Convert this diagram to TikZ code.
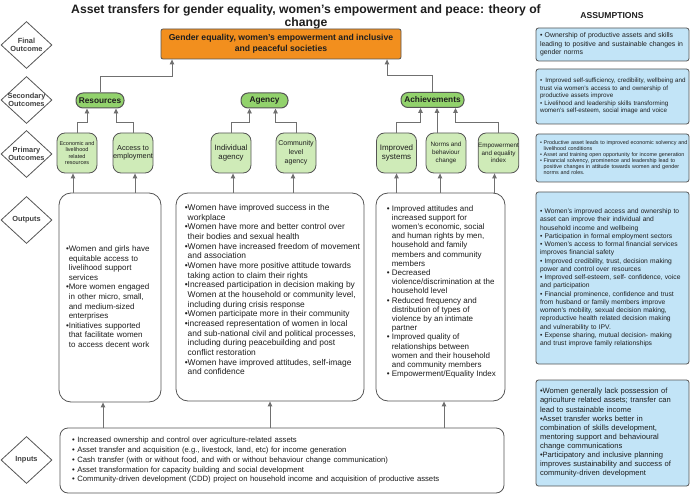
\documentclass[tikz,border=0pt]{standalone}
\usepackage{fontspec}
\setmainfont{Liberation Sans}
\usetikzlibrary{shapes.geometric,arrows.meta}

\definecolor{goalorange}{HTML}{F28F1E}
\definecolor{secgreen}{HTML}{92D26C}
\definecolor{prigreen}{HTML}{CFEBB8}
\definecolor{asmblue}{HTML}{C2E4F7}
\definecolor{edgegray}{HTML}{555555}
\definecolor{linegray}{HTML}{707070}
\definecolor{txt}{HTML}{1E1E1E}

\newcommand{\fs}[2]{\fontsize{#1}{#2}\selectfont}
\newcommand{\ind}{\\\hphantom{•}}
\newcommand{\inds}{\\\hphantom{• }}
% rows that never wrap
\newcommand{\rows}[1]{\begin{tabular}{@{}l@{}}#1\end{tabular}}

\tikzset{
  stagebox/.style={diamond, draw=edgegray, line width=0.8pt, fill=white, inner sep=-6pt,
    minimum width=51pt, minimum height=47pt, align=center,
    font=\bfseries\fs{7.4}{8.2}, text=darkgray},
  goalbox/.style={rectangle, rounded corners=2pt, draw=edgegray, line width=0.8pt,
    fill=goalorange, minimum width=240pt, minimum height=30pt, inner sep=0pt,
    align=center, font=\bfseries\fs{8.65}{10.7}, text=txt},
  secbox/.style={rectangle, rounded corners=7pt, draw=edgegray, line width=1pt,
    fill=secgreen, minimum height=15pt, inner sep=0pt,
    font=\bfseries\fs{8.3}{9}, text=txt},
  pribox/.style={rectangle, rounded corners=8pt, draw=edgegray, line width=0.8pt,
    fill=prigreen, minimum width=40pt, minimum height=40pt, inner sep=0pt,
    align=center, text=txt},
  outbox/.style={rectangle, rounded corners=12pt, draw=edgegray, line width=0.8pt, fill=white},
  outtext/.style={align=left, inner sep=0pt, text=txt, anchor=north west},
  asmbox/.style={rectangle, rounded corners=2.5pt, draw=edgegray, line width=0.8pt,
    fill=asmblue, inner xsep=4pt, inner ysep=0pt, text width=145pt,
    minimum width=153pt, align=left, text=txt},
  arr/.style={draw=linegray, line width=0.9pt, -{Triangle[width=4.5pt,length=5pt]}}
}

\begin{document}
\begin{tikzpicture}[x=1pt,y=-1pt]
\useasboundingbox (0,0) rectangle (692,494);

% headings
\node[align=center, font=\bfseries\fs{12.2}{13}, text=txt] (title) at (306,16.5)
  {Asset transfers for gender equality, women's empowerment and peace: theory of\\change};
\node[font=\bfseries\fs{8.6}{9}, text=txt] (asmhead) at (612,16) {ASSUMPTIONS};

% stages
\node[stagebox] (stfinal) at (26.5,45) {Final\\Outcome};
\node[stagebox] (stsecond) at (26.5,100) {Secondary\\Outcomes};
\node[stagebox] (stprimary) at (26.5,154) {Primary\\Outcomes};
\node[stagebox] (stoutput) at (26.5,220) {Outputs};
\node[stagebox] (stinput) at (26.5,460) {Inputs};

% final outcome
\node[goalbox] (goal) at (281,44)
  {Gender equality, women's empowerment and inclusive\\and peaceful societies};

% secondary outcomes
\node[secbox, minimum width=48pt] (resources) at (100,100.5) {Resources};
\node[secbox, minimum width=47pt] (agency) at (264.5,100.5) {Agency};
\node[secbox, minimum width=63pt] (achieve) at (432.5,100) {Achievements};

% primary outcomes
\node[pribox, font=\fs{5.5}{6.4}] (econ) at (77,153) {Economic and\\livelihood\\related\\resources};
\node[pribox, font=\fs{7.3}{7.8}] (employ) at (133,153) {Access to\\employment};
\node[pribox, font=\fs{7.8}{9}] (indiv) at (231,153) {Individual\\agency};
\node[pribox, font=\fs{7}{9}] (commun) at (296,153) {Community\\level\\agency};
\node[pribox, font=\fs{8}{8.5}] (systems) at (396.5,153) {Improved\\systems};
\node[pribox, font=\fs{6.3}{7.8}] (norms) at (446,153) {Norms and\\behaviour\\change};
\node[pribox, font=\fs{6.3}{7.8}] (index) at (498.5,153) {Empowerment\\and equality\\index};

% outputs
\node[outbox, minimum width=102pt, minimum height=209pt, text width=88pt, inner xsep=7pt,
  align=left, font=\fs{8}{9.6}, text=txt] (outres) at (110,297.5)
  {\rows{•Women and girls have\ind equitable access to\ind livelihood support\ind services\\
   •More women engaged\ind in other micro, small,\ind and medium-sized\ind enterprises\\
   •Initiatives supported\ind that facilitate women\ind to access decent work}};
\node[outbox, minimum width=188pt, minimum height=208pt] (outagency) at (270,297) {};
\node[outtext, font=\fs{8.4}{9.67}] (agencytxt) at ([shift={(9,11.5)}]outagency.north west)
  {•Women have improved success in the\ind workplace\\
   •Women have more and better control over\ind their bodies and sexual health\\
   •Women have increased freedom of movement\ind and association\\
   •Women have more positive attitude towards\ind taking action to claim their rights\\
   •Increased participation in decision making by\ind Women at the household or community level,\ind including during crisis response\\
   •Women participate more in their community\\
   •increased representation of women in local\ind and sub-national civil and political processes,\ind including during peacebuilding and post\ind conflict restoration\\
   •Women have improved attitudes, self-image\ind and confidence};
\node[outbox, minimum width=129pt, minimum height=208pt] (outachieve) at (440.5,297) {};
\node[outtext, font=\fs{8}{9.2}] (achievetxt) at ([shift={(11,12.5)}]outachieve.north west)
  {• Improved attitudes and\inds increased support for\inds women's economic, social\inds and human rights by men,\inds household and family\inds members and community\inds members\\
   • Decreased\inds violence/discrimination at the\inds household level\\
   • Reduced frequency and\inds distribution of types of\inds violence by an intimate\inds partner\\
   • Improved quality of\inds relationships between\inds women and their household\inds and community members\\
   • Empowerment/Equality Index};

% inputs
\node[outbox, rounded corners=8pt, minimum width=444pt, minimum height=65pt, text width=420pt,
  inner xsep=12pt, align=left, font=\fs{7.7}{9.75}, text=txt] (inputs) at (282,460.5)
  {\rows{• Increased ownership and control over agriculture-related assets\\
   • Asset transfer and acquisition (e.g., livestock, land, etc) for income generation\\
   • Cash transfer (with or without food, and with or without behaviour change communication)\\
   • Asset transformation for capacity building and social development\\
   • Community-driven development (CDD) project on household income and acquisition of productive assets}};

% assumptions
\node[asmbox, minimum height=33pt, font=\fs{6.9}{8.5}] (asm1) at (612.5,44.5)
  {\rows{• Ownership of productive assets and skills\\leading to positive and sustainable changes in\\gender norms}};
\node[asmbox, minimum height=55pt, font=\fs{6.25}{7.5}] (asm2) at (612.5,96.5)
  {\rows{•\, Improved self-sufficiency, credibility, wellbeing and\\trust via women's access to and ownership of\\productive assets improve\\• Livelihood and leadership skills transforming\\women's self-esteem, social image and voice}};
\node[asmbox, minimum height=48pt, font=\fs{5.4}{6}] (asm3) at (612.5,158)
  {\rows{• Productive asset leads to improved economic solvency and\inds livelihood conditions\\
   • Asset and training open opportunity for income generation\\
   • Financial solvency, prominence and leadership lead to\inds positive changes in attitude towards women and gender\inds norms and roles.}};
\node[asmbox, minimum height=172pt, font=\fs{6.7}{8.25}] (asm4) at (612.5,278)
  {\rows{• Women's improved access and ownership to\\asset can improve their individual and\\household income and wellbeing\\
   • Participation in formal employment sectors\\
   • Women's access to formal financial services\\improves financial safety\\
   • Improved credibility, trust, decision making\\power and control over resources\\
   • Improved self-esteem, self- confidence, voice\\and participation\\
   • Financial prominence, confidence and trust\\from husband or family members improve\\women's mobility, sexual decision making,\\reproductive health related decision making\\and vulnerability to IPV.\\
   • Expense sharing, mutual decision- making\\and trust improve family relationships}};
\node[asmbox, minimum height=106pt, font=\fs{7.6}{9.1}] (asm5) at (612.5,433)
  {\rows{•Women generally lack possession of\\agriculture related assets; transfer can\\lead to sustainable income\\
   •Asset transfer works better in\\combination of skills development,\\mentoring support and behavioural\\change communications\\
   •Participatory and inclusive planning\\improves sustainability and success of\\community-driven development}};

% inputs to outputs
\draw[arr] ([xshift=-7pt]outres.south |- inputs.north) -- ([xshift=-7pt]outres.south);
\draw[arr] (outagency.south |- inputs.north) -- (outagency.south);
\draw[arr] ([xshift=3.5pt]outachieve.south |- inputs.north) -- ([xshift=3.5pt]outachieve.south);

% outputs to primary outcomes
\draw[arr] ([xshift=-4pt]econ.south |- outres.north) -- ([xshift=-4pt]econ.south);
\draw[arr] ([xshift=2pt]employ.south |- outres.north) -- ([xshift=2pt]employ.south);
\draw[arr] ([xshift=2pt]indiv.south |- outagency.north) -- ([xshift=2pt]indiv.south);
\draw[arr] ([xshift=-3pt]commun.south |- outagency.north) -- ([xshift=-3pt]commun.south);
\draw[arr] (systems.south |- outachieve.north) -- (systems.south);
\draw[arr] ([xshift=-6pt]norms.south |- outachieve.north) -- ([xshift=-6pt]norms.south);
\draw[arr] ([xshift=-4pt]index.south |- outachieve.north) -- ([xshift=-4pt]index.south);

% primary to secondary outcomes
\draw[arr] (econ.north) -- ++(0,-10) -| ([xshift=-13pt]resources.south);
\draw[arr] (employ.north) -- ++(0,-10) -| ([xshift=16pt]resources.south);
\draw[arr] (indiv.north) -- ++(0,-10) -| ([xshift=-15pt]agency.south);
\draw[arr] (commun.north) -- ++(0,-10) -| ([xshift=11pt]agency.south);
\draw[arr] (systems.north) -- ++(0,-10) -| ([xshift=-12pt]achieve.south);
\draw[arr] ([xshift=-9pt]norms.north) -- ([xshift=-9pt]norms.north |- achieve.south);
\draw[arr] (index.north) -- ++(0,-10) -| ([xshift=23pt]achieve.south);

% secondary to final outcome
\draw[arr] (resources.north) -- ++(0,-16) -| ([xshift=-109pt]goal.south);
\draw[arr] (achieve.north) -- ++(0,-17) -| ([xshift=106pt]goal.south);
\end{tikzpicture}
\end{document}
